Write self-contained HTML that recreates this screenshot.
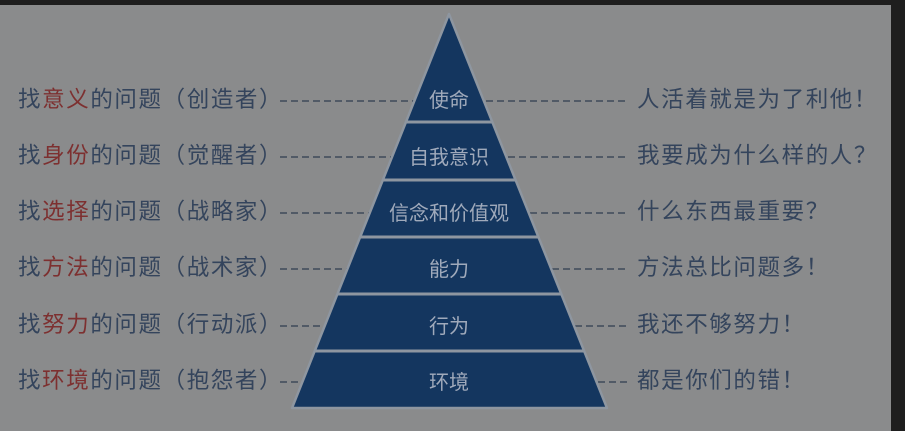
<!DOCTYPE html>
<html><head><meta charset="utf-8"><style>
html,body{margin:0;padding:0;}
body{width:905px;height:431px;overflow:hidden;background:#1e1e1e;position:relative;font-family:"Liberation Sans","Noto Sans CJK SC",sans-serif;}
.bg{position:absolute;left:0;top:5px;width:891px;height:426px;background:#8a8b8c;}
.t{position:absolute;font-size:22.5px;color:#34445c;white-space:nowrap;line-height:1;letter-spacing:1.6px;}
.r{color:#7d3030;}
</style></head><body>
<div class="bg"></div>
<svg width="905" height="431" style="position:absolute;left:0;top:0">
<g stroke="#3e4a5a" stroke-width="1.5" stroke-dasharray="7,4">
<line x1="280" y1="101" x2="414" y2="101"/><line x1="486" y1="101" x2="628" y2="101"/>
<line x1="280" y1="157" x2="392" y2="157"/><line x1="508" y1="157" x2="628" y2="157"/>
<line x1="280" y1="213" x2="370" y2="213"/><line x1="530" y1="213" x2="628" y2="213"/>
<line x1="280" y1="269" x2="348" y2="269"/><line x1="552" y1="269" x2="628" y2="269"/>
<line x1="280" y1="326" x2="325" y2="326"/><line x1="575" y1="326" x2="628" y2="326"/>
<line x1="280" y1="382" x2="302" y2="382"/><line x1="598" y1="382" x2="628" y2="382"/>
</g>
<polygon points="449,14 292,408 607,408" fill="#14365f" stroke="#8e96a0" stroke-width="2.5" stroke-linejoin="round"/>
<g stroke="#8e96a0" stroke-width="3">
<line x1="406" y1="122" x2="492" y2="122"/>
<line x1="383" y1="180" x2="515" y2="180"/>
<line x1="360" y1="237" x2="538" y2="237"/>
<line x1="337" y1="294" x2="561" y2="294"/>
<line x1="314" y1="351" x2="584" y2="351"/>
</g>
<g fill="#a0aabb" font-size="20" text-anchor="middle" font-family="Liberation Sans, Noto Sans CJK SC, sans-serif">
<text x="449" y="107">使命</text>
<text x="449" y="164">自我意识</text>
<text x="449" y="220">信念和价值观</text>
<text x="449" y="276">能力</text>
<text x="449" y="333">行为</text>
<text x="449" y="389">环境</text>
</g>
</svg>
<div class="t" style="left:18px;top:89px">找<span class="r">意义</span>的问题（创造者）</div>
<div class="t" style="left:18px;top:145px">找<span class="r">身份</span>的问题（觉醒者）</div>
<div class="t" style="left:18px;top:201px">找<span class="r">选择</span>的问题（战略家）</div>
<div class="t" style="left:18px;top:257px">找<span class="r">方法</span>的问题（战术家）</div>
<div class="t" style="left:18px;top:314px">找<span class="r">努力</span>的问题（行动派）</div>
<div class="t" style="left:18px;top:370px">找<span class="r">环境</span>的问题（抱怨者）</div>
<div class="t" style="left:637px;top:89px">人活着就是为了利他！</div>
<div class="t" style="left:637px;top:145px">我要成为什么样的人？</div>
<div class="t" style="left:637px;top:201px">什么东西最重要？</div>
<div class="t" style="left:637px;top:257px">方法总比问题多！</div>
<div class="t" style="left:637px;top:314px">我还不够努力！</div>
<div class="t" style="left:637px;top:370px">都是你们的错！</div>
</body></html>
